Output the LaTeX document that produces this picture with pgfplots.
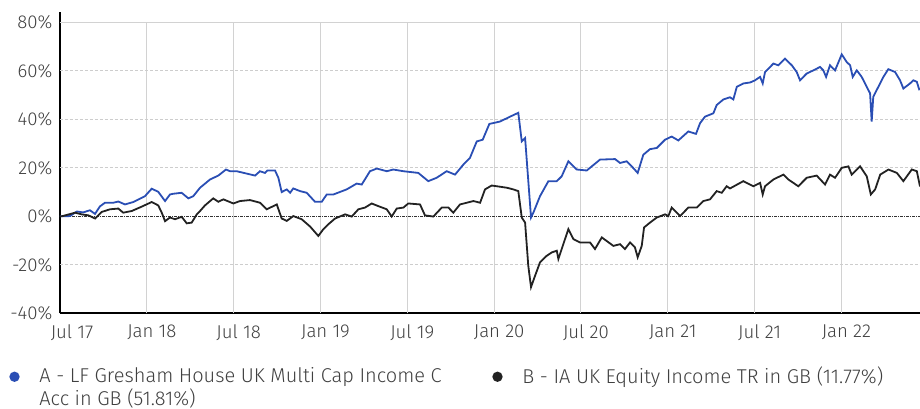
\documentclass[border=0pt]{standalone}
\usepackage{fontspec}
\setmainfont{Fira Sans}[UprightFont={* Light}]
\usepackage{pgfplots}
\pgfplotsset{compat=1.18}
\definecolor{fundblue}{RGB}{42,78,180}
\definecolor{benchblack}{RGB}{34,34,34}
\definecolor{txt}{RGB}{64,64,64}
\definecolor{vgrid}{RGB}{210,210,210}
\definecolor{hgrid}{RGB}{205,205,205}
\begin{document}
\begin{tikzpicture}
\begin{axis}[
  scale only axis, width=430pt, height=150.8pt,
  xmin=0, xmax=59.43, ymin=-40, ymax=84.4,
  axis lines=left, axis line style={-, black, line width=0.8pt},
  xtick={0,6,12,18,24,30,36,42,48,54},
  xticklabels={\hspace*{7pt}Jul 17, Jan 18, Jul 18, Jan 19, Jul 19, Jan 20, Jul 20, Jan 21, Jul 21, Jan 22},
  ytick={-40,-20,0,20,40,60,80},
  yticklabels={-40\%,-20\%,0\%,20\%,40\%,60\%,80\%},
  tick style={draw=none},
  ticklabel style={font=\fontsize{9.3}{10}\selectfont, text=txt},
  xticklabel style={xshift=2.5pt},
  yticklabel style={xshift=1.8pt},
  legend columns=2,
  legend cell align=left,
  legend image code/.code={\fill (0pt,0pt) circle (2.1pt); \path (10pt,0pt);},
  legend style={draw=none, fill=none, inner sep=0pt, at={(0,0)}, anchor=north west,
    xshift=-25.5pt, yshift=-24.6pt, font=\fontsize{10}{8.2}\selectfont, text=txt},
]
% grid lines
\addplot[vgrid, line width=0.5pt, forget plot] coordinates {(6,-40)(6,80)};
\addplot[vgrid, line width=0.5pt, forget plot] coordinates {(12,-40)(12,80)};
\addplot[vgrid, line width=0.5pt, forget plot] coordinates {(18,-40)(18,80)};
\addplot[vgrid, line width=0.5pt, forget plot] coordinates {(24,-40)(24,80)};
\addplot[vgrid, line width=0.5pt, forget plot] coordinates {(30,-40)(30,80)};
\addplot[vgrid, line width=0.5pt, forget plot] coordinates {(36,-40)(36,80)};
\addplot[vgrid, line width=0.5pt, forget plot] coordinates {(42,-40)(42,80)};
\addplot[vgrid, line width=0.5pt, forget plot] coordinates {(48,-40)(48,80)};
\addplot[vgrid, line width=0.5pt, forget plot] coordinates {(54,-40)(54,80)};
\addplot[vgrid, line width=0.5pt, forget plot] coordinates {(0,80)(59.43,80)};
\addplot[hgrid, line width=0.5pt, dash pattern=on 1.5pt off 1pt, forget plot] coordinates {(0,60)(59.43,60)};
\addplot[hgrid, line width=0.5pt, dash pattern=on 1.5pt off 1pt, forget plot] coordinates {(0,40)(59.43,40)};
\addplot[hgrid, line width=0.5pt, dash pattern=on 1.5pt off 1pt, forget plot] coordinates {(0,20)(59.43,20)};
\addplot[hgrid, line width=0.5pt, dash pattern=on 1.5pt off 1pt, forget plot] coordinates {(0,-20)(59.43,-20)};
\addplot[black!80, line width=0.4pt, dash pattern=on 1.5pt off 0.5pt on 0.5pt off 0.5pt, forget plot] coordinates {(0,0)(59.43,0)};
% A - fund
\addplot[fundblue, line width=0.9pt] coordinates {
(0,0)(0.12,0)(0.69,0.1)(1.17,2.0)(1.59,1.6)(2.07,2.5)(2.42,1.0)(2.76,4.1)(3.11,5.6)(3.68,5.6)
(4.03,6.1)(4.49,4.9)(5.07,5.9)(5.87,8.3)(6.34,11.4)(6.79,10.1)(7.26,6.3)(7.60,9.0)(7.81,9.3)(8.41,9.7)
(8.87,7.4)(9.21,8.3)(9.68,11.8)(10.37,15.2)(10.94,16.8)(11.47,19.3)(11.75,18.6)(12.21,18.6)(13.48,16.8)(13.82,18.6)
(14.17,17.9)(14.33,18.9)(14.86,18.9)(15.09,15.9)(15.32,10.0)(15.67,11.1)(15.90,9.7)(16.12,11.5)(16.59,10.4)(17.05,9.7)
(17.62,6.0)(18.09,6.0)(18.43,9.0)(18.89,9.0)(19.81,11.1)(20.50,13.5)(20.85,13.1)(21.42,18.6)(21.89,19.7)(22.58,18.6)
(23.03,19.3)(23.73,18.6)(24.76,17.9)(25.45,14.5)(26.03,15.9)(26.72,18.6)(27.30,17.2)(27.87,21.3)(28.33,24.1)(28.80,30.9)
(29.21,31.6)(29.67,38.1)(30.41,39.1)(31.10,41.1)(31.67,42.7)(31.91,30.9)(32.14,32.3)(32.55,-0.5)(32.71,1.5)(33.17,8.3)
(33.75,14.5)(34.33,14.5)(34.67,16.5)(35.13,22.7)(35.71,19.3)(36.40,18.9)(37.32,23.4)(38.36,23.6)(38.70,22.0)(39.16,22.7)
(39.51,20.6)(39.92,17.9)(40.31,25.4)(40.77,27.7)(41.24,28.2)(41.81,31.6)(42.27,32.9)(42.73,31.3)(43.42,35.0)(43.95,34.0)
(44.23,38.4)(44.57,41.1)(45.15,42.5)(45.38,45.9)(45.84,48.2)(46.30,49.1)(46.53,48.2)(46.77,53.4)(47.22,54.8)(47.69,55.2)
(48.03,56.1)(48.38,57.5)(48.56,54.8)(48.72,59.5)(49.30,63.0)(49.64,62.3)(50.10,65.0)(50.57,62.3)(50.91,59.5)(51.14,56.1)
(51.60,58.9)(52.06,60.2)(52.52,61.6)(52.75,60.2)(52.94,57.5)(53.21,62.3)(53.56,60.2)(54.02,66.8)(54.37,63.6)(54.60,62.3)
(54.78,57.5)(55.06,60.2)(55.40,57.5)(55.75,53.4)(55.98,50.7)(56.09,39.1)(56.20,49.3)(56.55,53.4)(56.90,57.5)(57.24,60.7)
(57.71,59.5)(58.05,56.1)(58.28,52.7)(58.74,54.8)(58.97,56.1)(59.21,55.5)(59.39,52.0)
};
\addlegendentry{\parbox[t]{224.5pt}{A - LF Gresham House UK Multi Cap Income C\\Acc in GB (51.81\%)}}
% B - benchmark
\addplot[benchblack, line width=0.9pt] coordinates {
(0,0)(0.12,0)(1.04,1.5)(1.50,0.8)(1.96,0.4)(2.42,-0.9)(2.88,1.8)(3.46,2.9)(4.03,3.2)(4.37,1.5)
(4.96,2.2)(5.65,4.0)(6.34,5.9)(6.79,4.5)(7.03,1.5)(7.26,-2.0)(7.60,-0.5)(7.95,-1.2)(8.41,-0.2)(8.76,-2.9)
(9.10,-2.6)(9.45,0.8)(9.68,2.2)(10.02,4.5)(10.59,7.4)(10.94,6.0)(11.29,7.0)(11.98,5.3)(12.44,6.3)(13.13,6.7)
(13.82,5.6)(14.29,2.9)(14.98,4.9)(15.32,-0.9)(15.67,-1.9)(16.12,0.1)(16.70,-1.2)(17.28,-4.2)(17.85,-8.1)(18.20,-5.3)
(18.54,-3.3)(19.01,-0.9)(19.70,0.8)(20.16,-0.1)(20.62,2.9)(21.08,3.6)(21.54,5.3)(22.00,4.2)(22.58,2.9)(22.92,-0.1)
(23.27,3.2)(23.73,3.6)(24.07,5.3)(24.88,4.9)(25.22,0.4)(25.80,-0.1)(26.38,3.6)(26.84,3.6)(27.18,1.5)(27.64,4.9)
(28.11,5.6)(28.57,6.3)(29.03,5.6)(29.37,11.1)(29.83,12.7)(30.41,12.2)(30.87,11.8)(31.33,11.1)(31.67,10.4)(31.91,-0.5)
(32.14,-2.6)(32.36,-20.4)(32.55,-29.2)(32.83,-24.5)(33.17,-19.0)(33.63,-16.3)(33.98,-14.9)(34.33,-14.2)(34.44,-17.6)(34.78,-11.5)
(35.13,-5.3)(35.48,-9.4)(35.94,-10.8)(36.63,-10.8)(36.97,-13.5)(37.44,-8.7)(38.24,-12.2)(38.70,-11.5)(39.04,-13.5)(39.39,-10.8)
(39.73,-12.8)(39.92,-16.9)(40.20,-12.2)(40.36,-4.6)(40.77,-2.6)(41.24,-0.5)(41.81,0.8)(42.04,0.1)(42.27,3.6)(42.85,0.1)
(43.42,3.6)(44.00,3.6)(44.46,6.3)(44.92,7.0)(45.38,10.4)(45.73,9.7)(46.07,12.4)(46.30,11.5)(47.22,14.5)(47.91,12.4)
(48.38,13.8)(48.56,9.0)(48.72,12.4)(49.30,15.2)(49.99,17.2)(50.33,15.2)(51.02,12.4)(51.60,15.9)(52.29,16.8)(52.87,13.1)
(53.21,17.2)(53.56,15.9)(54.02,20.0)(54.48,20.6)(54.71,17.2)(55.29,20.6)(55.75,16.5)(56.03,9.0)(56.33,11.1)(56.68,17.2)
(57.25,19.3)(57.83,17.9)(58.28,14.5)(58.86,19.3)(59.21,18.6)(59.43,12.3)
};
\addlegendentry{B - IA UK Equity Income TR in GB (11.77\%)}
\end{axis}
\pgfresetboundingbox
\path[use as bounding box] ([xshift=-30pt,yshift=-47.5pt]current axis.south west) rectangle ([yshift=5.85pt]current axis.north east);
\end{tikzpicture}
\end{document}
